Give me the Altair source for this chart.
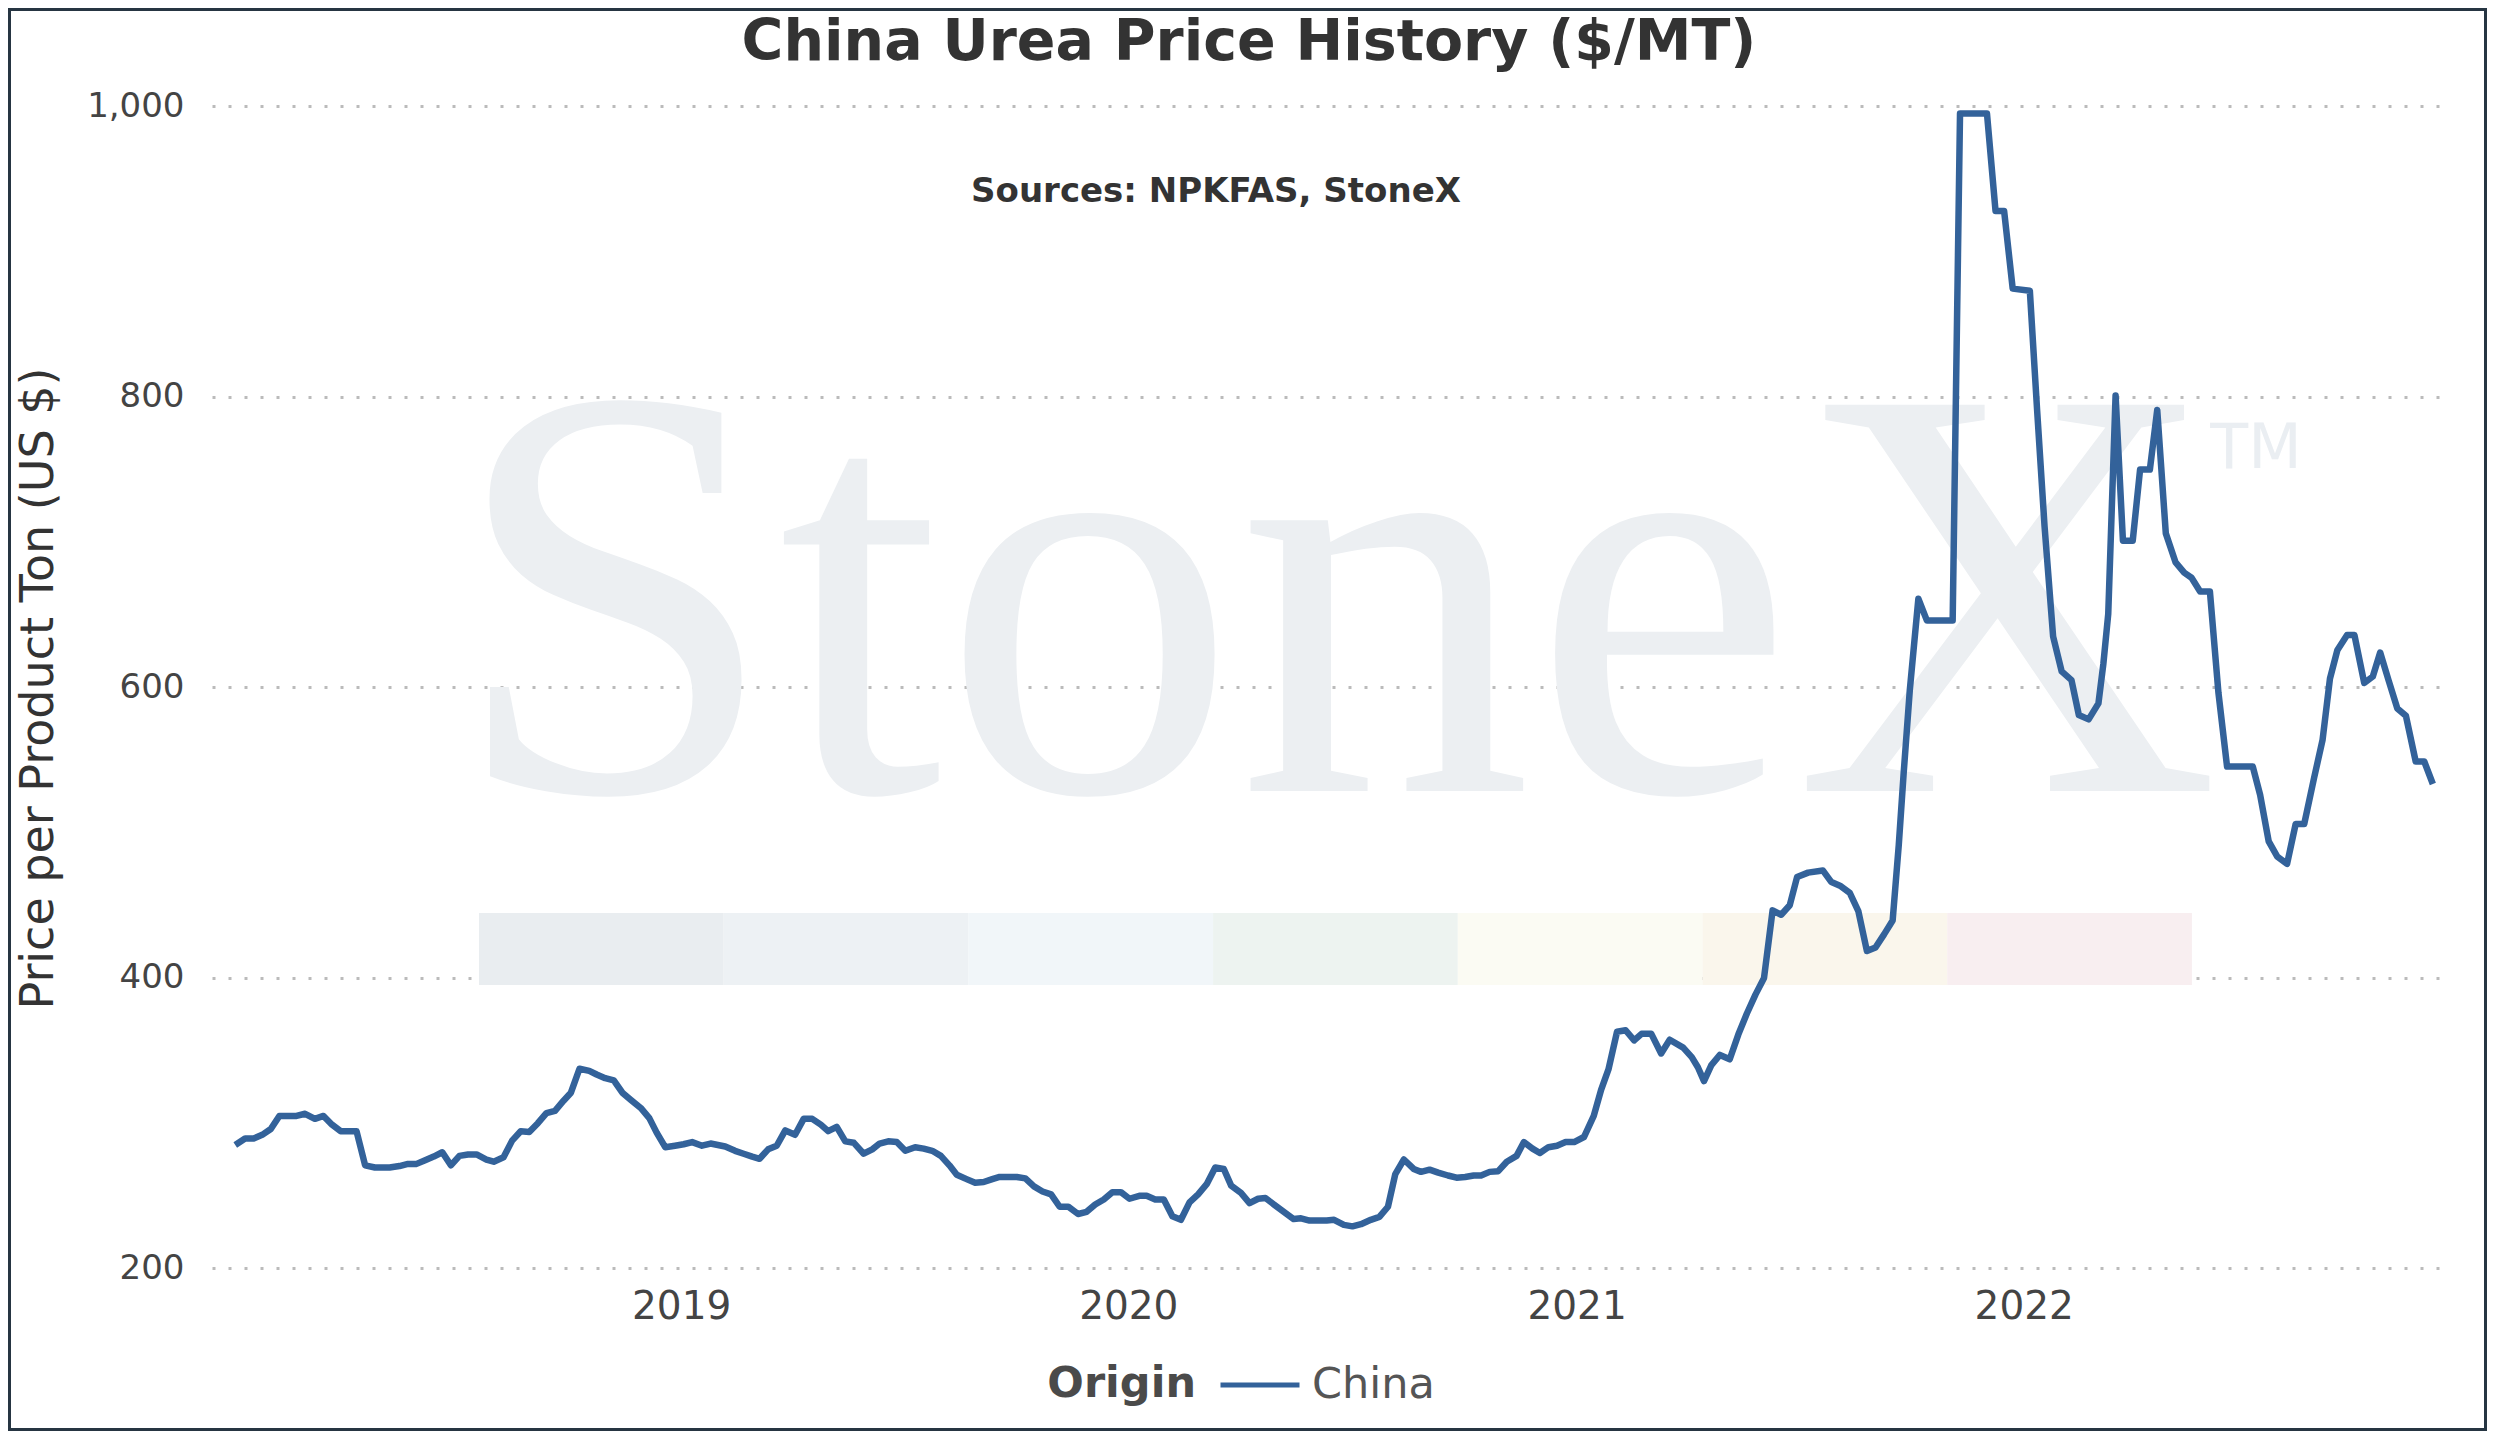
import altair as alt
import pandas as pd

# ---------------- data ----------------
dates_2018 = ["2018-01-02", "2018-01-10", "2018-01-17", "2018-01-24", "2018-01-31", "2018-02-07",
              "2018-02-21", "2018-02-28", "2018-03-08", "2018-03-15", "2018-03-22", "2018-03-29",
              "2018-04-11", "2018-04-18", "2018-04-26", "2018-05-08", "2018-05-16", "2018-05-23",
              "2018-05-30", "2018-06-06", "2018-06-13", "2018-06-20", "2018-06-27", "2018-07-04",
              "2018-07-11", "2018-07-18", "2018-07-26", "2018-08-01", "2018-08-09", "2018-08-16",
              "2018-08-23", "2018-08-30", "2018-09-06", "2018-09-13", "2018-09-20", "2018-09-27",
              "2018-10-03", "2018-10-10", "2018-10-18", "2018-10-24", "2018-10-31", "2018-11-07",
              "2018-11-14", "2018-11-21", "2018-11-29", "2018-12-06", "2018-12-12", "2018-12-19",
              "2018-12-27"]
prices_2018 = [285, 289.5, 289.5, 292, 296, 305,
               305, 306.5, 303, 305, 299, 294.5,
               294.5, 271, 269.5, 269.5, 270.5, 272,
               272, 274.5, 277, 280, 271, 277.5,
               278.5, 278.5, 275, 273.5, 276.5, 288,
               294.5, 294, 300, 307, 308.5, 315.5,
               321, 337.5, 336, 333.5, 331, 329.5,
               321, 316, 310.5, 303.5, 293.5, 283.5,
               284.5]

dates_2019 = ["2019-01-03", "2019-01-10", "2019-01-18", "2019-01-25", "2019-02-06", "2019-02-14",
              "2019-02-21", "2019-02-28", "2019-03-06", "2019-03-13", "2019-03-20", "2019-03-27",
              "2019-04-04", "2019-04-11", "2019-04-18", "2019-04-25", "2019-05-01", "2019-05-08",
              "2019-05-15", "2019-05-22", "2019-05-30", "2019-06-06", "2019-06-12", "2019-06-19",
              "2019-06-26", "2019-07-03", "2019-07-11", "2019-07-18", "2019-07-25", "2019-08-01",
              "2019-08-08", "2019-08-14", "2019-08-22", "2019-08-29", "2019-09-05", "2019-09-12",
              "2019-09-18", "2019-09-25", "2019-10-02", "2019-10-09", "2019-10-16", "2019-10-23",
              "2019-10-30", "2019-11-06", "2019-11-13", "2019-11-21", "2019-11-28", "2019-12-05",
              "2019-12-12", "2019-12-19", "2019-12-26"]
prices_2019 = [285.5, 287, 284.5, 286, 284, 281,
               279, 277, 275.5, 282, 284.5, 295,
               292, 303, 303, 299, 294.5, 297.5,
               287.5, 286.5, 279, 282, 286, 287.5,
               287, 281, 283.5, 282.5, 281, 277.5,
               271, 264.5, 261.5, 259, 259.5, 261.5,
               263, 263, 263, 262, 256.5, 253,
               251, 242.5, 242.5, 237.5, 239, 244,
               247.5, 252.5, 252.5]

dates_2020 = ["2020-01-02", "2020-01-10", "2020-01-16", "2020-01-23", "2020-01-30", "2020-02-06",
              "2020-02-13", "2020-02-20", "2020-02-27", "2020-03-05", "2020-03-12", "2020-03-19",
              "2020-03-25", "2020-04-02", "2020-04-09", "2020-04-16", "2020-04-22", "2020-04-29",
              "2020-05-07", "2020-05-15", "2020-05-21", "2020-05-28", "2020-06-04", "2020-06-11",
              "2020-06-17", "2020-06-25", "2020-07-02", "2020-07-09", "2020-07-17", "2020-07-24",
              "2020-07-31", "2020-08-06", "2020-08-13", "2020-08-21", "2020-08-27", "2020-09-03",
              "2020-09-10", "2020-09-18", "2020-09-25", "2020-10-02", "2020-10-09", "2020-10-15",
              "2020-10-22", "2020-10-29", "2020-11-05", "2020-11-13", "2020-11-19", "2020-11-26",
              "2020-12-02", "2020-12-09", "2020-12-16", "2020-12-23", "2020-12-30"]
prices_2020 = [248, 250, 250, 247.5, 247.5, 236,
               233.5, 245.5, 251, 258, 269.5, 268.5,
               257, 252, 245, 248, 248.5, 244,
               239, 234, 234.5, 233, 233, 233,
               233.5, 230, 229, 230.5, 233.5, 235.5,
               242.5, 265, 275, 268.5, 266.5, 268,
               266, 264, 262.5, 263, 264, 264,
               266.5, 267, 273.5, 277.5, 287, 282.5,
               279.5, 283.5, 284.5, 287, 287]

dates_2021 = ["2021-01-07", "2021-01-15", "2021-01-21", "2021-01-27", "2021-02-03", "2021-02-10",
              "2021-02-17", "2021-02-23", "2021-03-03", "2021-03-11", "2021-03-18", "2021-03-29",
              "2021-04-05", "2021-04-10", "2021-04-15", "2021-04-21", "2021-04-28", "2021-05-06",
              "2021-05-13", "2021-05-20", "2021-05-27", "2021-06-03", "2021-06-10", "2021-06-17",
              "2021-06-24", "2021-06-30", "2021-07-09", "2021-07-21", "2021-07-28", "2021-08-04",
              "2021-08-12", "2021-08-19", "2021-08-26", "2021-09-02", "2021-09-09", "2021-09-16",
              "2021-09-21", "2021-09-25", "2021-09-30", "2021-10-07", "2021-10-14", "2021-11-04",
              "2021-11-10", "2021-12-02", "2021-12-09", "2021-12-16", "2021-12-23"]
prices_2021 = [290.5, 305, 323, 337, 363, 364,
               357, 361.5, 361.5, 348, 357.5, 352,
               345.5, 338.5, 329, 340, 347, 344,
               361, 375.5, 388.5, 400, 446.5, 443.5,
               450, 469.5, 472.5, 474, 466, 463.5,
               458.5, 446, 418.5, 421, 430, 439.5,
               491.5, 541, 598, 661, 646, 646,
               995, 995, 928, 928, 874.5]

dates_2022 = ["2022-01-06", "2022-01-12", "2022-01-18", "2022-01-25", "2022-02-01", "2022-02-09",
              "2022-02-15", "2022-02-23", "2022-03-03", "2022-03-07", "2022-03-11", "2022-03-17",
              "2022-03-23", "2022-03-31", "2022-04-06", "2022-04-14", "2022-04-20", "2022-04-27",
              "2022-05-05", "2022-05-12", "2022-05-18", "2022-05-25", "2022-06-02", "2022-06-09",
              "2022-06-16", "2022-07-07", "2022-07-13", "2022-07-20", "2022-07-27", "2022-08-04",
              "2022-08-11", "2022-08-18", "2022-08-26", "2022-09-02", "2022-09-08", "2022-09-14",
              "2022-09-22", "2022-09-28", "2022-10-06", "2022-10-13", "2022-10-19", "2022-10-26",
              "2022-11-02", "2022-11-09", "2022-11-17", "2022-11-24", "2022-12-01"]
prices_2022 = [873, 790, 711, 635, 611, 605,
               581, 578, 589, 616, 650.5, 801,
               701, 701, 750, 750, 791, 706,
               686, 679, 675.5, 666, 666, 596,
               545.5, 545.5, 526, 494, 483.5, 478.5,
               506, 506, 537.5, 564, 606, 625.5,
               636, 636, 603, 607.5, 624, 604.5,
               585.5, 580.5, 549, 549, 533.5]

y_ticks = [200, 400, 600, 800, 1000]
x_tick_years = [2019, 2020, 2021, 2022]
band_colors = ["#e9edf0", "#edf1f4", "#f1f6f9", "#edf3f0", "#fbfbf3", "#faf6ec", "#f8eef0"]

all_dates = dates_2018 + dates_2019 + dates_2020 + dates_2021 + dates_2022
all_prices = prices_2018 + prices_2019 + prices_2020 + prices_2021 + prices_2022
df = pd.DataFrame({"date": all_dates, "price": all_prices, "origin": "China"})

# ---------------- layout ----------------
W, H = 2238, 1213
FONT = "DejaVu Sans"
one = pd.DataFrame({"k": [0]})

x_enc = alt.X(
    "date:T",
    scale=alt.Scale(domain=[alt.DateTime(year=2017, month=12, date=14),
                            alt.DateTime(year=2022, month=12, date=15)]),
    axis=alt.Axis(
        title=None,
        values=[alt.DateTime(year=y, month=1, date=1) for y in x_tick_years],
        format="%Y", labelFont=FONT, labelFontSize=39, labelColor="#444444",
        domain=False, ticks=False, tickSize=0, grid=False, labelPadding=4,
    ),
)
y_enc = alt.Y(
    "price:Q",
    scale=alt.Scale(domain=[190, 1025], nice=False, zero=False),
    axis=alt.Axis(
        title="Price per Product Ton (US $)",
        values=y_ticks, format=",d",
        labelFont=FONT, labelFontSize=34, labelColor="#444444",
        domain=False, ticks=False, tickSize=0, labelPadding=28,
        grid=True, gridDash=[3, 13], gridColor="#bbbbbb", gridWidth=3,
        titleFont=FONT, titleFontSize=46, titleFontWeight="normal", titleColor="#333333",
        titleAngle=270, titleX=-150, titleY=618, titleAlign="center", titleBaseline="bottom",
    ),
)

# watermark bands
band_left, band_w = 267, 244.7
bands = []
for i, c in enumerate(band_colors):
    bands.append(
        alt.Chart(one).mark_rect(color=c).encode(
            x=alt.value(band_left + i * band_w), x2=alt.value(band_left + (i + 1) * band_w),
            y=alt.value(843), y2=alt.value(915),
        )
    )

wm = alt.Chart(one).mark_text(font="Liberation Serif", fontSize=590, color="#eceff2",
                              align="center", baseline="alphabetic").encode(
    x=alt.value(1123), y=alt.value(721), text=alt.value("StoneX"))
tm = alt.Chart(one).mark_text(font=FONT, fontSize=62, color="#eaeef2",
                              align="center", baseline="alphabetic").encode(
    x=alt.value(2044), y=alt.value(398), text=alt.value("TM"))

line = alt.Chart(df).mark_line(strokeWidth=6.5, strokeJoin="round").encode(
    x=x_enc, y=y_enc,
    color=alt.Color("origin:N", scale=alt.Scale(range=["#33629a"]),
                    legend=alt.Legend(
                        title=None, orient="none", legendX=1006, legendY=1273,
                        direction="horizontal",
                        labelFont=FONT, labelFontSize=43, labelColor="#555555",
                        labelBaseline="middle",
                        symbolType="stroke", symbolSize=6241, symbolStrokeWidth=5,
                        labelOffset=10, padding=0,
                    )),
)

legend_title = alt.Chart(one).mark_text(font=FONT, fontSize=43, fontWeight="bold", color="#4a4a4a",
                                        align="right", baseline="middle").encode(
    x=alt.value(984), y=alt.value(1314), text=alt.value("Origin"))

title = alt.Chart(one).mark_text(font=FONT, fontSize=57, fontWeight="bold", color="#333333",
                                 align="center", baseline="alphabetic").encode(
    x=alt.value(1037), y=alt.value(-10), text=alt.value("China Urea Price History ($/MT)"))
subtitle = alt.Chart(one).mark_text(font=FONT, fontSize=34, fontWeight="bold", color="#333333",
                                    align="center", baseline="alphabetic").encode(
    x=alt.value(1004), y=alt.value(132), text=alt.value("Sources: NPKFAS, StoneX"))

border = alt.Chart(one).mark_rect(filled=False, stroke="#263542", strokeWidth=3).encode(
    x=alt.value(-202.5), x2=alt.value(2273.5), y=alt.value(-60.5), y2=alt.value(1359.5))

chart = alt.layer(*bands, wm, tm, line, legend_title, title, subtitle, border).properties(
    width=W, height=H,
    autosize=alt.AutoSizeParams(type="none"),
    padding={"left": 204, "top": 62, "right": 37, "bottom": 148},
).configure(background="white").configure_view(strokeWidth=0, stroke="transparent")

chart.save("out.html", embed_options={"renderer": "svg", "actions": False})
